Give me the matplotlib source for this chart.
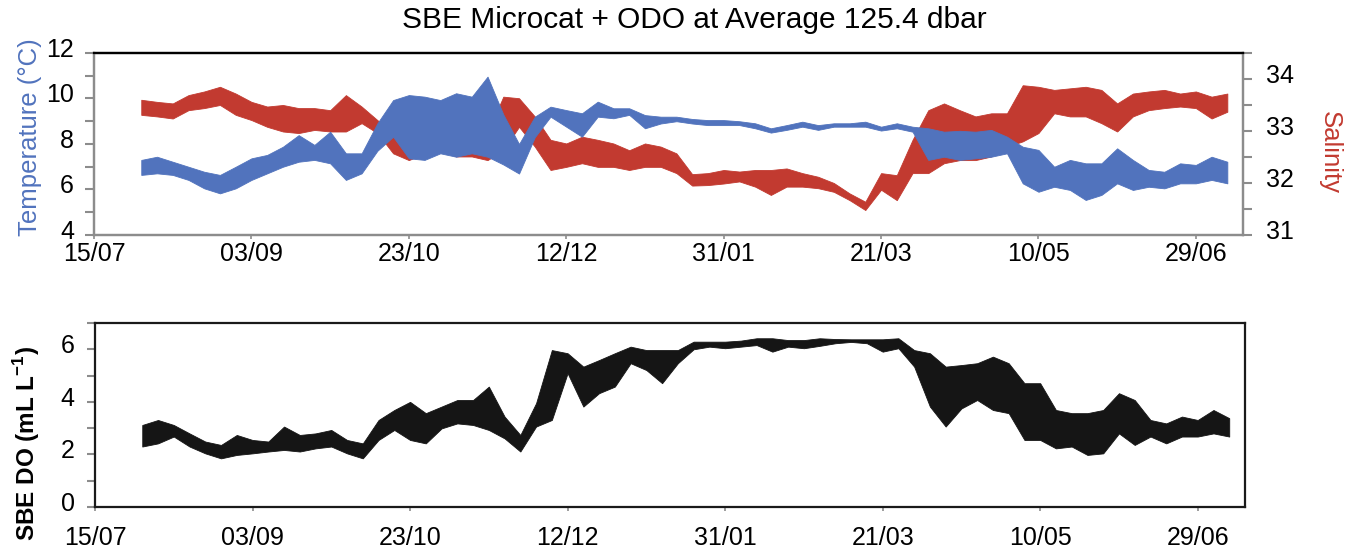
import numpy as np
import pandas as pd
import matplotlib
matplotlib.use("Agg")
import matplotlib.pyplot as plt
import matplotlib.dates as mdates
from matplotlib.ticker import FixedLocator
from matplotlib.transforms import ScaledTranslation

plt.rcParams['font.family'] = ['Liberation Sans', 'DejaVu Sans']
plt.rcParams['mathtext.fontset'] = 'custom'
plt.rcParams['mathtext.rm'] = 'Liberation Sans'
plt.rcParams['mathtext.bf'] = 'Liberation Sans:bold'

# Sampling grid: every 5 days, 30/07/2011 .. 09/07/2012
sample_dates = pd.date_range('2011-07-30', '2012-07-09', freq='5D')

# Temperature (degC): upper / lower envelope of the tidal signal
temp_hi = [7.30, 7.44, 7.22, 7.00, 6.78, 6.64, 7.00, 7.37, 7.52, 7.88,
           8.39, 7.96, 8.54, 7.59, 7.59, 8.91, 9.93, 10.15, 10.08, 9.93,
           10.23, 10.08, 10.96, 9.30, 8.00, 9.20, 9.64, 9.49, 9.35, 9.86,
           9.57, 9.57, 9.27, 9.20, 9.20, 9.10, 9.05, 9.05, 9.00, 8.91,
           8.69, 8.83, 8.98, 8.83, 8.91, 8.91, 8.98, 8.76, 8.91, 8.76,
           8.69, 8.54, 8.58, 8.54, 8.62, 8.32, 7.88, 7.74, 7.00, 7.30,
           7.15, 7.15, 7.81, 7.30, 6.86, 6.78, 7.15, 7.08, 7.44, 7.22]
temp_lo = [6.64, 6.71, 6.64, 6.42, 6.05, 5.83, 6.05, 6.42, 6.71, 7.00,
           7.22, 7.30, 7.15, 6.42, 6.71, 7.70, 8.32, 7.37, 7.30, 7.59,
           7.44, 7.59, 7.44, 7.10, 6.70, 8.30, 9.20, 8.76, 8.32, 9.20,
           9.13, 9.28, 8.69, 8.90, 9.00, 8.90, 8.83, 8.83, 8.83, 8.69,
           8.50, 8.62, 8.76, 8.62, 8.76, 8.76, 8.76, 8.59, 8.69, 8.54,
           7.30, 7.44, 7.30, 7.37, 7.44, 7.59, 6.27, 5.90, 6.12, 5.98,
           5.54, 5.76, 6.27, 5.98, 6.12, 6.05, 6.27, 6.27, 6.42, 6.27]

# Salinity: upper / lower envelope
sal_hi = [33.60, 33.56, 33.53, 33.69, 33.76, 33.85, 33.72, 33.56, 33.47, 33.50,
          33.44, 33.44, 33.40, 33.69, 33.47, 33.21, 32.96, 33.30, 33.34, 33.40,
          33.34, 33.21, 32.96, 33.66, 33.63, 33.28, 32.83, 32.76, 32.89, 32.83,
          32.76, 32.63, 32.76, 32.70, 32.57, 32.17, 32.19, 32.25, 32.22, 32.25,
          32.25, 32.28, 32.19, 32.12, 32.00, 31.80, 31.64, 32.19, 32.15, 32.83,
          33.40, 33.53, 33.40, 33.28, 33.34, 33.34, 33.88, 33.85, 33.79, 33.82,
          33.85, 33.79, 33.53, 33.72, 33.76, 33.79, 33.72, 33.76, 33.66, 33.72]
sal_lo = [33.31, 33.28, 33.24, 33.40, 33.44, 33.50, 33.31, 33.21, 33.08, 32.99,
          32.96, 33.02, 32.99, 32.99, 33.15, 32.96, 32.57, 32.44, 32.57, 32.63,
          32.51, 32.51, 32.44, 32.63, 33.08, 32.70, 32.25, 32.31, 32.38, 32.31,
          32.31, 32.25, 32.31, 32.31, 32.19, 31.95, 31.96, 31.99, 32.03, 31.93,
          31.77, 31.93, 31.93, 31.90, 31.83, 31.67, 31.48, 31.87, 31.67, 32.19,
          32.19, 32.38, 32.44, 32.44, 32.51, 32.70, 32.80, 32.96, 33.34, 33.28,
          33.28, 33.15, 32.99, 33.28, 33.40, 33.44, 33.47, 33.44, 33.24, 33.37]

# Dissolved oxygen (mL/L): upper / lower envelope
do_hi = [3.12, 3.31, 3.12, 2.80, 2.49, 2.36, 2.74, 2.55, 2.49, 3.06,
         2.74, 2.80, 2.93, 2.55, 2.42, 3.31, 3.69, 4.00, 3.57, 3.82,
         4.07, 4.07, 4.58, 3.44, 2.74, 3.95, 5.97, 5.85, 5.34, 5.59,
         5.85, 6.10, 5.97, 5.97, 5.97, 6.29, 6.29, 6.29, 6.33, 6.42,
         6.42, 6.35, 6.35, 6.42, 6.39, 6.38, 6.38, 6.38, 6.42, 5.97,
         5.85, 5.34, 5.40, 5.47, 5.72, 5.47, 4.71, 4.71, 3.69, 3.57,
         3.57, 3.69, 4.33, 4.07, 3.31, 3.18, 3.44, 3.31, 3.69, 3.38]
do_lo = [2.30, 2.42, 2.68, 2.30, 2.04, 1.85, 1.98, 2.04, 2.11, 2.17,
         2.11, 2.23, 2.30, 2.04, 1.85, 2.55, 2.93, 2.55, 2.42, 2.99,
         3.18, 3.12, 2.93, 2.61, 2.11, 3.06, 3.31, 5.09, 3.82, 4.33,
         4.58, 5.47, 5.21, 4.71, 5.47, 6.00, 6.10, 6.04, 6.10, 6.16,
         5.91, 6.10, 6.04, 6.13, 6.23, 6.28, 6.23, 5.91, 6.04, 5.34,
         3.82, 3.06, 3.75, 4.07, 3.69, 3.57, 2.55, 2.55, 2.23, 2.30,
         1.98, 2.04, 2.80, 2.36, 2.68, 2.42, 2.68, 2.68, 2.80, 2.68]

tick_dates = pd.date_range('2011-07-15', periods=8, freq='50D')
x_start, x_end = pd.Timestamp('2011-07-15'), pd.Timestamp('2012-07-14')

BLUE = '#5173bd'
RED = '#c23a30'
GREY = '#8c8c8c'
TICK_FS = 18

fig = plt.figure(figsize=(13.59, 5.57), dpi=100)
ax = fig.add_axes([0.0692, 0.5781, 0.8455, 0.3268])
ax2 = ax.twinx()
axd = fig.add_axes([0.0699, 0.0898, 0.8462, 0.3303])

# temperature axis drawn above salinity axis
ax.set_zorder(ax2.get_zorder() + 1)
ax.patch.set_visible(False)

ax2.fill_between(sample_dates, sal_lo, sal_hi, color=RED, lw=0.6)
ax.fill_between(sample_dates, temp_lo, temp_hi, color=BLUE, lw=0.6)
axd.fill_between(sample_dates, do_lo, do_hi, color='#151515', lw=0.6)

for a in (ax, ax2, axd):
    a.set_xlim(x_start, x_end)
    a.xaxis.set_major_locator(FixedLocator(mdates.date2num(tick_dates)))
    a.xaxis.set_major_formatter(mdates.DateFormatter('%d/%m'))

ax.set_ylim(4, 12)
ax.set_yticks([4, 6, 8, 10, 12])
ax.yaxis.set_minor_locator(FixedLocator([5, 7, 9, 11]))
ax2.set_ylim(31, 34.5)
ax2.set_yticks([31, 32, 33, 34])
ax2.yaxis.set_minor_locator(FixedLocator([31.5, 32.5, 33.5, 34.5]))
axd.set_ylim(0, 7)
axd.set_yticks([0, 2, 4, 6])
axd.yaxis.set_minor_locator(FixedLocator([1, 3, 5, 7]))

ax.tick_params(axis='y', which='both', direction='out', length=6.5, width=1.5,
               color=GREY, labelsize=TICK_FS, pad=8)
ax2.tick_params(axis='y', which='both', direction='out', length=6.5, width=1.5,
                color=GREY, labelsize=TICK_FS, pad=10)
axd.tick_params(axis='y', which='both', direction='out', length=5.5, width=1.5,
                color=GREY, labelsize=TICK_FS, pad=9)
ax.tick_params(axis='x', direction='out', length=3, width=1.2, color=GREY,
               labelsize=TICK_FS, pad=2)
ax2.tick_params(axis='x', length=0)
axd.tick_params(axis='x', direction='out', length=3, width=1.2, color=GREY,
                labelsize=TICK_FS, pad=11)

for a in (ax, ax2):
    for side in ('left', 'right', 'bottom'):
        a.spines[side].set_color(GREY)
        a.spines[side].set_linewidth(1.6)
    a.spines['top'].set_color('black')
    a.spines['top'].set_linewidth(1.6)
for side in ('left', 'right', 'bottom', 'top'):
    axd.spines[side].set_color('#1a1a1a')
    axd.spines[side].set_linewidth(1.6)

# y tick labels sit slightly above their tick marks
lift = ScaledTranslation(0, 4 / 72, fig.dpi_scale_trans)
for lab in ax.get_yticklabels() + ax2.get_yticklabels() + axd.get_yticklabels():
    lab.set_transform(lab.get_transform() + lift)

fig.text(694 / 1359, 1 - 20 / 557, 'SBE Microcat + ODO at Average 125.4 dbar',
         fontsize=21.5, ha='center', va='center')
fig.text(30 / 1359, 1 - 137 / 557, 'Temperature (°C)', rotation=90,
         color=BLUE, fontsize=18.5, ha='center', va='center')
fig.text(1330 / 1359, 1 - 152 / 557, 'Salinity', rotation=270,
         color=RED, fontsize=18.5, ha='center', va='center')
fig.text(27 / 1359, 1 - 444 / 557, r'SBE DO (mL L$^{\mathbf{-1}}$)', rotation=90,
         fontsize=17.5, fontweight='bold', ha='center', va='center')

fig.savefig('out.png', dpi=100)
